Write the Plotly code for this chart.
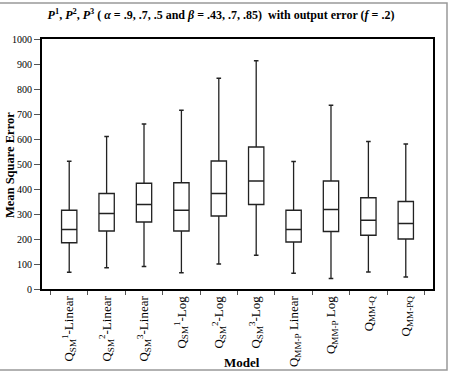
import plotly.graph_objects as go

categories = [
    "Q<sub>SM</sub><sup>1</sup>-Linear",
    "Q<sub>SM</sub><sup>2</sup>-Linear",
    "Q<sub>SM</sub><sup>3</sup>-Linear",
    "Q<sub>SM</sub><sup>1</sup>-Log",
    "Q<sub>SM</sub><sup>2</sup>-Log",
    "Q<sub>SM</sub><sup>3</sup>-Log",
    "Q<sub>MM-P</sub> Linear",
    "Q<sub>MM-P</sub> Log",
    "Q<sub>MM-Q</sub>",
    "Q<sub>MM-PQ</sub>",
]
maxv = [511, 610, 660, 715, 843, 913, 510, 735, 590, 580]
q3 = [315, 382, 423, 425, 512, 568, 315, 432, 365, 350]
med = [238, 302, 338, 315, 382, 432, 238, 318, 275, 262]
q1 = [185, 232, 268, 232, 292, 338, 188, 230, 215, 200]
minv = [67, 85, 90, 65, 100, 135, 63, 42, 68, 48]

FONT = "Liberation Serif"
W, H = 449, 373
L, R, T, B = 42, 16, 39, 84
PW, PH = W - L - R, H - T - B


def px(x):
    return (x - L) / PW


def py(y):
    return (H - B - y) / PH


fig = go.Figure()
fig.add_trace(go.Box(
    x=categories, q1=q1, median=med, q3=q3,
    lowerfence=minv, upperfence=maxv,
    fillcolor="white", line=dict(color="#222", width=1.3),
    width=0.41, whiskerwidth=0.3, boxpoints=False, showlegend=False,
    hoverinfo="y",
))

fig.update_layout(
    width=W, height=H,
    margin=dict(l=L, r=R, t=T, b=B, autoexpand=False),
    paper_bgcolor="white", plot_bgcolor="white",
    font=dict(family=FONT, size=11, color="black"),
    title=dict(
        text="<b><i>P</i><sup>1</sup>, <i>P</i><sup>2</sup>, <i>P</i><sup>3</sup> ( <i>α</i> = .9, .7, .5 and <i>β</i> = .43, .7, .85)  with output error (<i>f</i> = .2)</b>",
        x=221 / W, xanchor="center", y=1 - 15 / H, yanchor="middle",
        font=dict(family=FONT, size=12, color="black"),
    ),
    xaxis=dict(
        type="category", tickangle=-90, tickson="boundaries",
        ticks="outside", ticklen=4, tickcolor="#555",
        showline=True, linecolor="black", linewidth=2, mirror=True,
        showgrid=False, tickfont=dict(family=FONT, size=13),
        automargin=False,
    ),
    yaxis=dict(
        range=[0, 1000], dtick=100, ticks="outside", ticklen=6, tickcolor="#555",
        showline=True, linecolor="black", linewidth=2, mirror=True,
        showgrid=False, zeroline=False, tickfont=dict(family=FONT, size=10),
        automargin=False,
    ),
    annotations=[
        dict(text="<b>Mean Square Error</b>", xref="paper", yref="paper",
             x=px(10), y=py(165), textangle=-90, showarrow=False,
             xanchor="center", yanchor="middle",
             font=dict(family=FONT, size=12.5)),
        dict(text="<b>Model</b>", xref="paper", yref="paper",
             x=px(242), y=py(362), showarrow=False,
             xanchor="center", yanchor="middle",
             font=dict(family=FONT, size=13)),
    ],
    shapes=[dict(
        type="rect", xref="paper", yref="paper",
        x0=px(-3), x1=px(447), y0=py(370), y1=py(3),
        line=dict(color="#999", width=1.5), fillcolor="rgba(0,0,0,0)", layer="below",
    )],
)

fig.write_html("out.html")
